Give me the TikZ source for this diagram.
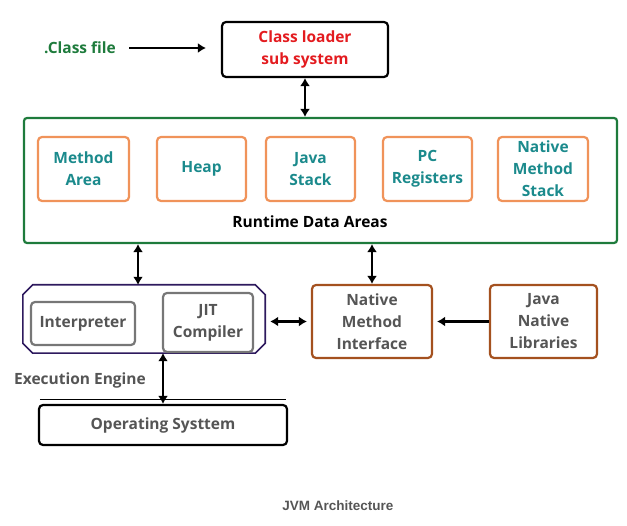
\documentclass[tikz,border=0pt]{standalone}
\usepackage{fontspec}
\setmainfont{Open Sans}
\newfontfamily\captionfont{Liberation Sans}
\usetikzlibrary{arrows.meta}
\definecolor{loaderred}{HTML}{E31B1F}
\definecolor{filegreen}{HTML}{1E7B3C}
\definecolor{areagreen}{HTML}{1E7B3C}
\definecolor{areaorange}{HTML}{F0935A}
\definecolor{areateal}{HTML}{1B8A8C}
\definecolor{enginepurple}{HTML}{2E1A5E}
\definecolor{partgray}{HTML}{777777}
\definecolor{labelgray}{HTML}{555555}
\definecolor{nativebrown}{HTML}{A4511F}
\tikzset{
  lbl/.style={font=\fontsize{15.5}{22}\selectfont\bfseries},
  blk/.style={draw, rounded corners=4pt, line width=2.2pt, align=center, lbl, inner sep=0pt},
  areabox/.style={blk, draw=areaorange, text=areateal, minimum height=64pt},
  partbox/.style={blk, draw=partgray, text=labelgray},
  nativebox/.style={blk, draw=nativebrown, text=labelgray, minimum height=73pt},
  link/.style={line width=2.2pt}
}
\begin{document}
\begin{tikzpicture}[x=1pt, y=-1pt, >={Latex[length=8pt, width=10pt]}]
\useasboundingbox (0,0) rectangle (627,526);
% class loading
\node [lbl, text=filegreen] (classfile) at (80,48) {.Class file};
\node [blk, text=loaderred, minimum width=166pt, minimum height=55pt] (loader) at (305,49.5) {Class loader\\sub system};
% runtime data areas
\node [blk, draw=areagreen, rounded corners=3pt, minimum width=593pt, minimum height=125pt] (runtime) at (320.5,180.5) {};
\node [areabox, minimum width=91pt] (method) at (83.5,169) {Method\\Area};
\node [areabox, minimum width=89pt] (heap) at (201.5,169) {Heap};
\node [areabox, minimum width=89pt] (jstack) at (310.5,169) {Java\\Stack};
\node [areabox, minimum width=89pt] (pc) at (427.5,169) {PC\\Registers};
\node [areabox, minimum width=90pt] (nstack) at (543,169) {Native\\Method\\Stack};
\node [lbl] (rtlabel) at (310,222) {Runtime Data Areas};
% execution engine
\node [minimum width=242pt, minimum height=68pt, inner sep=0pt] (engine) at (144,319) {};
\draw [draw=enginepurple, line width=1.6pt]
  ([xshift=10pt]engine.north west) -- ([xshift=-10pt]engine.north east)
  -- ([yshift=-10pt]engine.north east) -- ([yshift=10pt]engine.south east)
  -- ([xshift=-10pt]engine.south east) -- ([xshift=10pt]engine.south west)
  -- ([yshift=10pt]engine.south west) -- ([yshift=-10pt]engine.north west) -- cycle;
\node [partbox, minimum width=104pt, minimum height=43pt] (interp) at (83,323.5) {Interpreter};
\node [partbox, minimum width=90pt, minimum height=59pt] (jit) at (208,322.5) {JIT\\Compiler};
\node [lbl, text=labelgray] (enlabel) at (80,380) {Execution Engine};
% native side
\node [nativebox, minimum width=120pt] (nmi) at (372,321.5) {Native\\Method\\Interface};
\node [nativebox, minimum width=107pt] (jnl) at (543.5,321.5) {Java\\Native\\Libraries};
% os
\node [blk, text=labelgray, minimum width=248pt, minimum height=40pt] (os) at (163,425) {Operating Systtem};
\draw [line width=1pt] ([xshift=2pt, yshift=4pt]os.north west) -- ([xshift=-2pt, yshift=4pt]os.north east);
% connectors
\draw [->, link, shorten <=10pt, shorten >=15pt] (classfile.east) -- (classfile.east -| loader.west);
\draw [<->, link] (loader.south) -- (loader.south |- runtime.north);
\draw [<->, link] ([xshift=-6pt]runtime.south -| engine.north) -- ([xshift=-6pt]engine.north);
\draw [<->, link] (runtime.south -| nmi.north) -- (nmi.north);
\draw [<->, link, shorten <=5pt, shorten >=4pt] (engine.east |- nmi.west) -- (nmi.west);
\draw [->, link, shorten >=4pt] (jnl.west) -- (nmi.east);
\draw [<->, link] (engine.south -| os.north) -- (os.north);
% caption
\node [font=\captionfont\fontsize{13.5}{16}\selectfont\bfseries, text=labelgray] (caption) at (338,506) {JVM Architecture};
\end{tikzpicture}
\end{document}
